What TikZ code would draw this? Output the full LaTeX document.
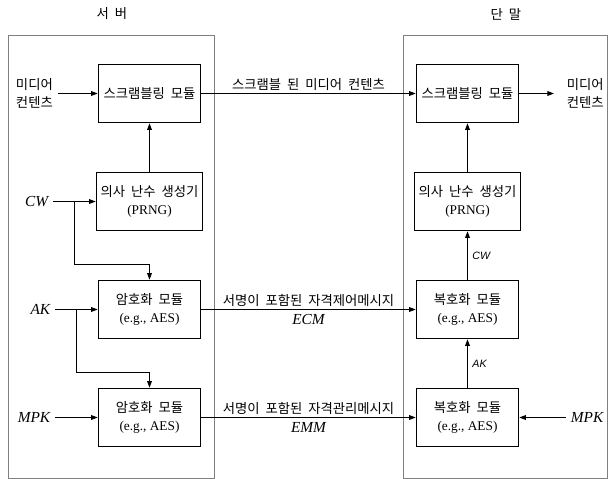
\documentclass[tikz,border=0pt]{standalone}
\usepackage{fontspec}
\setmainfont{Liberation Serif}
\newfontfamily\krfont[WordSpace=2]{Noto Sans CJK KR}
\newfontfamily\arialfont{Liberation Sans}
\newcommand{\hangul}[1]{{\krfont #1}}
\usetikzlibrary{arrows.meta,positioning}
\tikzset{
  >={Triangle[length=5pt,width=3.6pt]},
  modul/.style={draw, line width=0.7pt, minimum width=77pt, minimum height=44pt,
    align=center, font=\fontsize{10}{14}\selectfont},
  frame/.style={draw=gray, line width=0.6pt},
  kr/.style={font=\krfont\fontsize{10}{13.5}\selectfont, align=center},
  var/.style={font=\fontsize{11.5}{13}\selectfont\itshape},
  svar/.style={font=\arialfont\fontsize{8}{10}\selectfont\itshape},
}
\begin{document}
\begin{tikzpicture}[x=0.75pt, y=-0.75pt, node distance=81pt, line width=0.7pt]
  \useasboundingbox (0,0) rectangle (608,479);
  % server and terminal frames
  \draw[frame] (8,35) rectangle (214,478);
  \draw[frame] (403,35) rectangle (607,478);
  \node[kr] (srvTitle) at (112,14) {서 버};
  \node[kr] (trmTitle) at (506,14) {단 말};

  % server side
  \node[modul] (sScr) at (149.5,93.5) {\hangul{스크램블링 모듈}};
  \node[modul] (sPrng) [below of=sScr] {\hangul{의사 난수 생성기}\\(PRNG)};
  \node[modul] (sEnc1) [below of=sPrng] {\hangul{암호화 모듈}\\(e.g., AES)};
  \node[modul] (sEnc2) [below of=sEnc1] {\hangul{암호화 모듈}\\(e.g., AES)};

  \node[kr, left=30pt of sScr] (sIn) {미디어\\컨텐츠};
  \node[var, left=32pt of sPrng] (sCW) {CW};
  \node[var, left=32pt of sEnc1] (sAK) {AK};
  \node[var, left=32pt of sEnc2] (sMPK) {MPK};

  % terminal side
  \node[modul] (tScr) [right of=sScr, node distance=238.5pt] {\hangul{스크램블링 모듈}};
  \node[modul] (tPrng) [below of=tScr] {\hangul{의사 난수 생성기}\\(PRNG)};
  \node[modul] (tDec1) [below of=tPrng] {\hangul{복호화 모듈}\\(e.g., AES)};
  \node[modul] (tDec2) [below of=tDec1] {\hangul{복호화 모듈}\\(e.g., AES)};

  \node[kr, right=32pt of tScr] (tOut) {미디어\\컨텐츠};
  \node[var, right=35pt of tDec2] (tMPK) {MPK};

  % server connections
  \draw[->] (sIn) -- (sScr);
  \draw[->] (sCW) -- (sPrng);
  \draw[->] (sAK) -- (sEnc1);
  \draw[->] (sMPK) -- (sEnc2);
  \draw[->] (sPrng) -- (sScr);
  \coordinate (cwFork) at ([xshift=-16pt]sPrng.west);
  \coordinate (akFork) at ([xshift=-16pt]sEnc1.west);
  \draw[->] (cwFork) |- ([yshift=11.5pt]sEnc1.north) -- (sEnc1.north);
  \draw[->] (akFork) |- ([yshift=11.5pt]sEnc2.north) -- (sEnc2.north);

  % server to terminal
  \draw[->] (sScr) -- node[kr, above, inner sep=1.5pt] {스크램블 된 미디어 컨텐츠} (tScr);
  \draw[->] (sEnc1) -- node[kr, above, inner sep=1.5pt] {서명이 포함된 자격제어메시지}
    node[var, below] {ECM} (tDec1);
  \draw[->] (sEnc2) -- node[kr, above, inner sep=1.5pt] {서명이 포함된 자격관리메시지}
    node[var, below] {EMM} (tDec2);

  % terminal connections
  \draw[->, shorten >=6pt] (tScr) -- (tOut);
  \draw[->] (tMPK) -- (tDec2);
  \draw[->] (tDec2) -- node[svar, right] {AK} (tDec1);
  \draw[->] (tDec1) -- node[svar, right] {CW} (tPrng);
  \draw[->] (tPrng) -- (tScr);
\end{tikzpicture}
\end{document}
